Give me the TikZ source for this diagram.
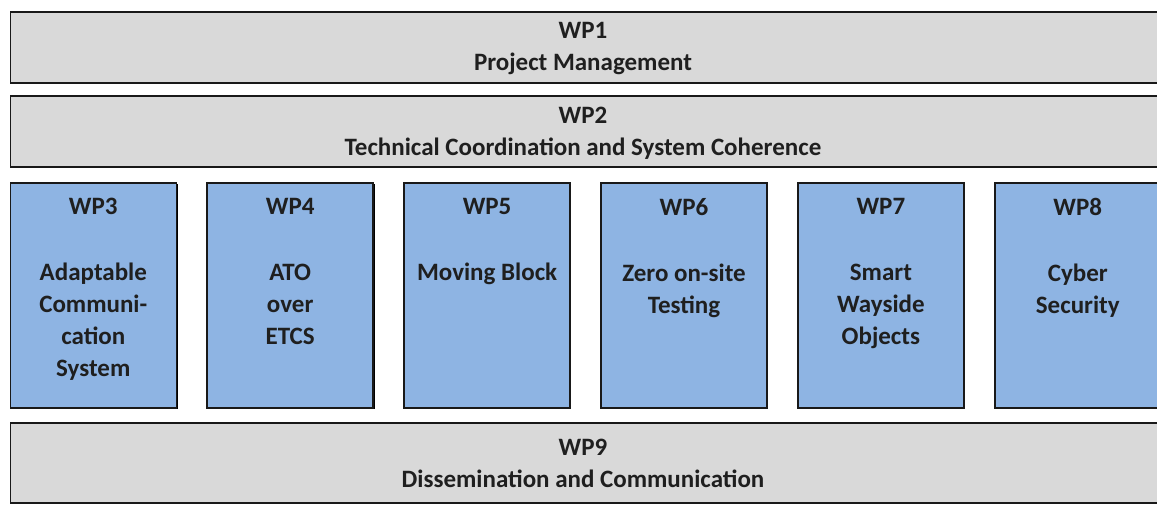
\documentclass[tikz,border=0pt]{standalone}
\usepackage{fontspec}
\setmainfont{Carlito}
\usetikzlibrary{shadows}
\definecolor{barfill}{RGB}{217,217,217}
\definecolor{wpblue}{RGB}{142,180,227}
\begin{document}
\begin{tikzpicture}[x=1pt,y=-1pt,
  box/.style={rectangle, draw=black!90, line width=1.6pt, anchor=north west, inner sep=0pt,
    general shadow={shadow xshift=1.3pt, shadow yshift=-1.3pt, fill=black}},
  bar/.style={box, fill=barfill, minimum width=1152pt},
  wpbox/.style={box, fill=wpblue, minimum width=166pt, minimum height=225pt},
  lbl/.style={font=\bfseries\fontsize{25}{32}\selectfont, align=center, anchor=north,
    inner sep=0pt, text=black!88}]
  \useasboundingbox (0,0) rectangle (1157,505);
  \fill[white] (0,0) rectangle (1157,505);

  % full-width work packages
  \node[bar, minimum height=71pt] (b1) at (9.5,11) {};
  \node[bar, minimum height=71pt] (b2) at (9.5,95) {};
  \node[bar, minimum height=80pt] (b9) at (9.5,422) {};
  \node[lbl] (t1) at (583,22) {WP1\\Project Management};
  \node[lbl] (t2) at (583,107) {WP2\\Technical Coordination and System Coherence};
  \node[lbl] (t9) at (583,439) {WP9\\Dissemination and Communication};

  % technical work packages
  \node[wpbox] (w3) at (9.5,182) {};
  \node[wpbox] (w4) at (206.4,182) {};
  \node[wpbox] (w5) at (403.3,182) {};
  \node[wpbox] (w6) at (600.2,182) {};
  \node[wpbox] (w7) at (797.1,182) {};
  \node[wpbox] (w8) at (994,182) {};
  \node[lbl] (l3) at ([yshift=-16pt]w3.north) {WP3\\[34pt]Adaptable\\Communi-\\cation\\System};
  \node[lbl] (l4) at ([yshift=-16pt]w4.north) {WP4\\[34pt]ATO\\over\\ETCS};
  \node[lbl] (l5) at ([yshift=-16pt]w5.north) {WP5\\[34pt]Moving Block};
  \node[lbl] (l6) at ([yshift=-16pt]w6.north) {WP6\\[34pt]Zero on-site\\Testing};
  \node[lbl] (l7) at ([yshift=-16pt]w7.north) {WP7\\[34pt]Smart\\Wayside\\Objects};
  \node[lbl] (l8) at ([yshift=-16pt]w8.north) {WP8\\[34pt]Cyber\\Security};
\end{tikzpicture}
\end{document}
